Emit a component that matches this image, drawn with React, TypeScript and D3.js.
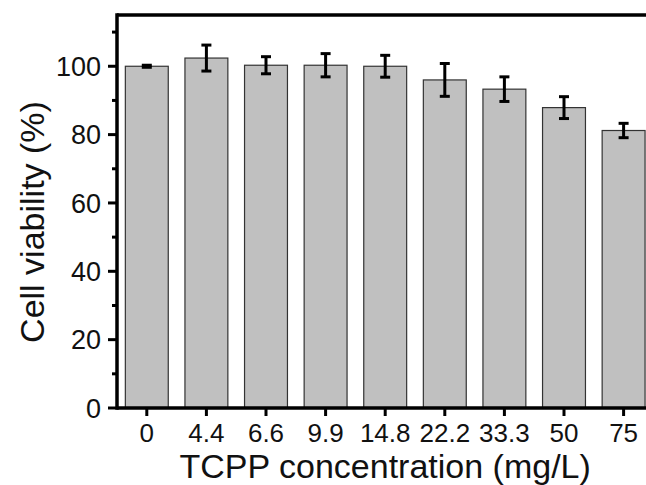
import React from "react";
import * as d3 from "d3";

const categories = ["0", "4.4", "6.6", "9.9", "14.8", "22.2", "33.3", "50", "75"];
const viability = [100, 102.4, 100.3, 100.3, 100.0, 96.0, 93.3, 87.9, 81.2];
const errors = [0.3, 3.8, 2.5, 3.4, 3.2, 4.8, 3.6, 3.2, 2.1];
const majorTicks = [0, 20, 40, 60, 80, 100];
const minorTicks = [10, 30, 50, 70, 90, 110];

const W = 646;
const H = 485;
const left = 117;
const top = 15;
const bottom = 408;
const step = 59.6;
const right = left + step * categories.length;

export default function App() {
  const x = d3
    .scaleBand<string>()
    .domain(categories)
    .range([left, right])
    .paddingInner(0.28)
    .paddingOuter(0.14);
  const y = d3.scaleLinear().domain([0, 115]).range([bottom, top]);
  const bw = x.bandwidth();
  const font = "'Liberation Sans', Arial, sans-serif";

  return (
    <div style={{ position: "fixed", left: 0, top: 0, width: W, height: H, overflow: "hidden", background: "#fff" }}>
      <svg width={W} height={H} style={{ display: "block" }} fontFamily={font}>
        <rect x={0} y={0} width={W} height={H} fill="#fff" />
        {categories.map((c, i) => (
          <rect
            key={c}
            x={x(c)!}
            y={y(viability[i])}
            width={bw}
            height={bottom - y(viability[i])}
            fill="#c0c0c0"
            stroke="#333"
            strokeWidth={1.2}
          />
        ))}
        {categories.map((c, i) => {
          const cx = x(c)! + bw / 2;
          const y1 = y(viability[i] + errors[i]);
          const y2 = y(viability[i] - errors[i]);
          return (
            <g key={"e" + c} stroke="#000" strokeWidth={3}>
              <line x1={cx} x2={cx} y1={y1} y2={y2} />
              <line x1={cx - 5} x2={cx + 5} y1={y1} y2={y1} />
              <line x1={cx - 5} x2={cx + 5} y1={y2} y2={y2} />
            </g>
          );
        })}
        {/* frame */}
        <line x1={left} x2={right} y1={top} y2={top} stroke="#000" strokeWidth={3.5} />
        <line x1={left} x2={left} y1={top - 1.75} y2={bottom + 1.75} stroke="#000" strokeWidth={3.5} />
        <line x1={left} x2={right} y1={bottom} y2={bottom} stroke="#000" strokeWidth={3.5} />
        {/* y ticks */}
        {majorTicks.map((t) => (
          <g key={"y" + t}>
            <line x1={left - 9} x2={left} y1={y(t)} y2={y(t)} stroke="#000" strokeWidth={3} />
            <text x={101} y={y(t)} dy="0.36em" textAnchor="end" fontSize={27} fill="#111">
              {t}
            </text>
          </g>
        ))}
        {minorTicks.map((t) => (
          <line key={"m" + t} x1={left - 5} x2={left} y1={y(t)} y2={y(t)} stroke="#000" strokeWidth={3} />
        ))}
        {/* x ticks */}
        {categories.map((c) => {
          const cx = x(c)! + bw / 2;
          return (
            <g key={"x" + c}>
              <line x1={cx} x2={cx} y1={bottom} y2={bottom + 8} stroke="#000" strokeWidth={3} />
              <text x={cx} y={442} textAnchor="middle" fontSize={26} fill="#111">
                {c}
              </text>
            </g>
          );
        })}
        <text x={(left + right) / 2} y={478} textAnchor="middle" fontSize={34} fill="#111">
          TCPP concentration (mg/L)
        </text>
        <text
          transform={`translate(43.5,222) rotate(-90)`}
          textAnchor="middle"
          fontSize={34}
          fill="#111"
        >
          Cell viability (%)
        </text>
      </svg>
    </div>
  );
}
